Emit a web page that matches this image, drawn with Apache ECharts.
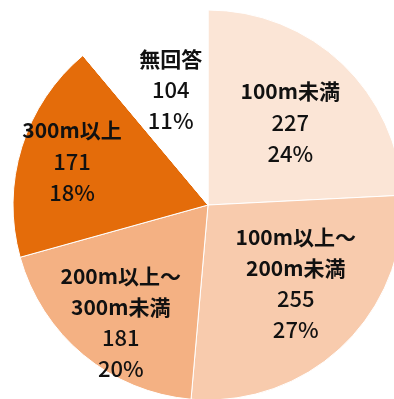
<!DOCTYPE html>
<html><head><meta charset="utf-8">
<script src="https://cdn.jsdelivr.net/npm/echarts@6/dist/echarts.min.js"></script>
<style>html,body{margin:0;padding:0;background:#fff}#c{width:394px;height:399px}</style>
</head><body><div id="c"></div>
<script>
const categories = ['100m未満', '100m以上～\n200m未満', '200m以上～\n300m未満', '300m以上', '無回答'];
const values = [227, 255, 181, 171, 104];
const percents = [24, 27, 20, 18, 11];
const colors = ['#fbe5d6', '#f8cbad', '#f4b183', '#e46c0a', '#ffffff'];
const labelOffsets = [[13, -10], [18, 6], [-23, 40], [-40, -14], [-3, -21]];

const chart = echarts.init(document.getElementById('c'));
chart.setOption({
  animation: false,
  series: [{
    type: 'pie',
    center: [208, 205],
    radius: 195,
    startAngle: 90,
    clockwise: true,
    data: categories.map((n, i) => ({ name: n, value: values[i], itemStyle: { color: colors[i] } })),
    itemStyle: { borderColor: '#ffffff', borderWidth: 1 },
    label: {
      position: 'inner',
      color: '#111',
      fontFamily: '"Noto Sans CJK JP"',
      fontSize: 21,
      lineHeight: 31,
      align: 'center',
      formatter: p => p.name.split('\n').map(s => '{n|' + s + '}').join('\n') + '\n{v|' + p.value + '}\n{v|' + percents[p.dataIndex] + '%}',
      rich: {
        n: { fontWeight: 'bold', fontSize: 21, lineHeight: 31, fontFamily: '"Noto Sans CJK JP"', color: '#111' },
        v: { fontWeight: 500, fontSize: 22, lineHeight: 31, fontFamily: '"Noto Sans CJK JP"', color: '#111' }
      }
    },
    labelLine: { show: false },
    labelLayout: p => ({ dx: labelOffsets[p.dataIndex][0], dy: labelOffsets[p.dataIndex][1] })
  }]
});
</script></body></html>
